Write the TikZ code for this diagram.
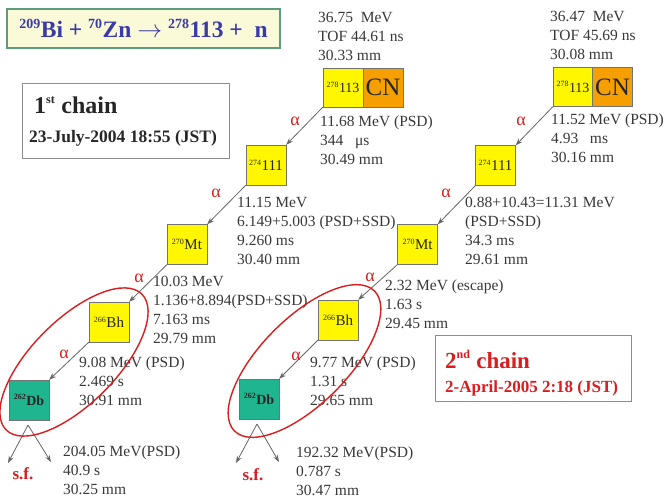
\documentclass[tikz,border=0pt]{standalone}
\usepackage{fontspec}
\setmainfont{Liberation Serif}
\usetikzlibrary{arrows.meta}
\definecolor{txt}{HTML}{383838}
\definecolor{nyel}{HTML}{FFF700}
\definecolor{norg}{HTML}{F5A000}
\definecolor{nteal}{HTML}{1FB58F}
\definecolor{ared}{HTML}{D81E1E}
\definecolor{ttl}{HTML}{3B3BA8}
\definecolor{ttlfill}{HTML}{FAFAD9}
\definecolor{ttlbord}{HTML}{5E9C80}
\tikzset{
  nuc/.style={draw=black!55, fill=nyel, minimum width=40pt, minimum height=40pt, inner sep=0pt, text=black!85, font=\fontsize{15}{15}\selectfont},
  cnbox/.style={draw=black!55, fill=norg, minimum width=40pt, minimum height=39pt, inner sep=0pt, text=black!85, font=\fontsize{25}{25}\selectfont},
  cnyel/.style={draw=black!55, fill=nyel, minimum width=40pt, minimum height=39pt, inner sep=0pt, text=black!85, font=\fontsize{14}{14}\selectfont},
  info/.style={anchor=north west, align=left, text=txt, inner sep=0pt, font=\fontsize{15.5}{19}\selectfont},
  alab/.style={text=ared, inner sep=0pt, font=\fontsize{18}{18}\selectfont},
  sflab/.style={text=ared, inner sep=0pt, font=\bfseries\fontsize{17}{17}\selectfont},
  dec/.style={draw=black!60, line width=0.8pt, -{Stealth[length=7pt,width=5pt]}},
  ring/.style={draw=ared, line width=1.4pt},
}
\newcommand{\nucl}[2]{\textsuperscript{\fontsize{8}{8}\selectfont #1}#2}
\begin{document}
\begin{tikzpicture}[x=1pt,y=-1pt]
\useasboundingbox[fill=white] (0,0) rectangle (664,498);

% title
\node[draw=ttlbord, line width=1.6pt, fill=ttlfill, minimum width=273pt, minimum height=39pt, inner sep=0pt,
      text=ttl, font=\bfseries\fontsize{23.5}{23.5}\selectfont] (title) at (143.5,28.5)
  {\textsuperscript{\fontsize{14}{14}\selectfont 209}Bi + \textsuperscript{\fontsize{14}{14}\selectfont 70}Zn $\rightarrow$ \textsuperscript{\fontsize{14}{14}\selectfont 278}113 +\ \ n};

% chain boxes
\node[draw=black!45, line width=1pt, fill=white, minimum width=207pt, minimum height=75pt, inner sep=0pt] (ch1) at (125.5,120.5) {};
\node[anchor=base west, inner sep=0pt, text=black!85, font=\bfseries\fontsize{24}{24}\selectfont] (ch1t) at (34,113) {1\textsuperscript{\fontsize{12}{12}\selectfont st} chain};
\node[anchor=base west, inner sep=0pt, text=black!85, font=\bfseries\fontsize{17.5}{17.5}\selectfont] (ch1d) at (29,142) {23-July-2004 18:55 (JST)};

\node[draw=black!45, line width=1pt, fill=white, minimum width=196pt, minimum height=66pt, inner sep=0pt] (ch2) at (533,368) {};
\node[anchor=base west, inner sep=0pt, text=ared, font=\bfseries\fontsize{23}{23}\selectfont] (ch2t) at (445,368) {2\textsuperscript{\fontsize{12}{12}\selectfont nd} chain};
\node[anchor=base west, inner sep=0pt, text=ared, font=\bfseries\fontsize{17}{17}\selectfont] (ch2d) at (445,392) {2-April-2005 2:18 (JST)};

% ===== chain 1 =====
\node[cnyel] (c1y) at (343,87.5) {\nucl{278}{113}};
\node[cnbox] (c1o) at (383,87.5) {CN};
\node[nuc] (a1) at (266,165) {\nucl{274}{111}};
\node[nuc] (b1) at (187,244.5) {\nucl{270}{Mt}};
\node[nuc] (d1) at (109,322) {\nucl{266}{Bh}};
\node[nuc, fill=nteal, font=\bfseries\fontsize{14}{14}\selectfont] (e1) at (29,400) {\nucl{262}{Db}};

\node[info] (t1a) at (318,12) {36.75\ \ MeV\\TOF 44.61 ns\\30.33 mm};
\node[info] (t1b) at (320,116) {11.68 MeV (PSD)\\344\ \ \ μs\\30.49 mm};
\node[info] (t1c) at (237,197) {11.15 MeV\\6.149+5.003 (PSD+SSD)\\9.260 ms\\30.40 mm};
\node[info] (t1d) at (153,276) {10.03 MeV\\1.136+8.894(PSD+SSD)\\7.163 ms\\29.79 mm};
\node[info] (t1e) at (79,357) {9.08 MeV (PSD)\\2.469 s\\30.91 mm};
\node[info] (t1f) at (63,446) {204.05 MeV(PSD)\\40.9 s\\30.25 mm};

\draw[dec] (c1y.south west) -- (a1.north east);
\draw[dec] (a1.south west) -- (b1.north east);
\draw[dec] (b1.south west) -- (d1.north east);
\draw[dec] (d1.south west) -- (e1.north east);
\coordinate (s1a) at (28,425);
\coordinate (s1l) at (8,463);
\coordinate (s1r) at (51,462);
\draw[dec] (s1a) -- (s1l);
\draw[dec] (s1a) -- (s1r);

\node[alab] (al1) at (295,121) {α};
\node[alab] (al2) at (216,193) {α};
\node[alab] (al3) at (139,278) {α};
\node[alab] (al4) at (64,354) {α};
\node[sflab] (sf1) at (23,474) {s.f.};

\draw[ring, rotate around={45:(74,362)}] (74,362) ellipse [x radius=96, y radius=42];

% ===== chain 2 =====
\node[cnyel] (c2y) at (573,87) {\nucl{278}{113}};
\node[cnbox] (c2o) at (612.5,87) {CN};
\node[nuc] (a2) at (495.5,165.5) {\nucl{274}{111}};
\node[nuc] (b2) at (417.5,244.5) {\nucl{270}{Mt}};
\node[nuc] (d2) at (338,320) {\nucl{266}{Bh}};
\node[nuc, fill=nteal, font=\bfseries\fontsize{14}{14}\selectfont] (e2) at (259,399) {\nucl{262}{Db}};

\node[info] (t2a) at (550,11) {36.47\ \ MeV\\TOF 45.69 ns\\30.08 mm};
\node[info] (t2b) at (551,114) {11.52 MeV (PSD)\\4.93\ \ \ ms\\30.16 mm};
\node[info] (t2c) at (465,197) {0.88+10.43=11.31 MeV\\(PSD+SSD)\\34.3 ms\\29.61 mm};
\node[info] (t2d) at (385,280) {2.32 MeV (escape)\\1.63 s\\29.45 mm};
\node[info] (t2e) at (310,357) {9.77 MeV (PSD)\\1.31 s\\29.65 mm};
\node[info] (t2f) at (296,447) {192.32 MeV(PSD)\\0.787 s\\30.47 mm};

\draw[dec] (c2y.south west) -- (a2.north east);
\draw[dec] (a2.south west) -- (b2.north east);
\draw[dec] (b2.south west) -- (d2.north east);
\draw[dec] (d2.south west) -- (e2.north east);
\coordinate (s2a) at (257,424);
\coordinate (s2l) at (236,463);
\coordinate (s2r) at (279,462);
\draw[dec] (s2a) -- (s2l);
\draw[dec] (s2a) -- (s2r);

\node[alab] (al5) at (521,121) {α};
\node[alab] (al6) at (446,193) {α};
\node[alab] (al7) at (370,277) {α};
\node[alab] (al8) at (296,356) {α};
\node[sflab] (sf2) at (253,475) {s.f.};

\draw[ring, rotate around={45:(304.5,361)}] (304.5,361) ellipse [x radius=99, y radius=43];
\end{tikzpicture}
\end{document}
